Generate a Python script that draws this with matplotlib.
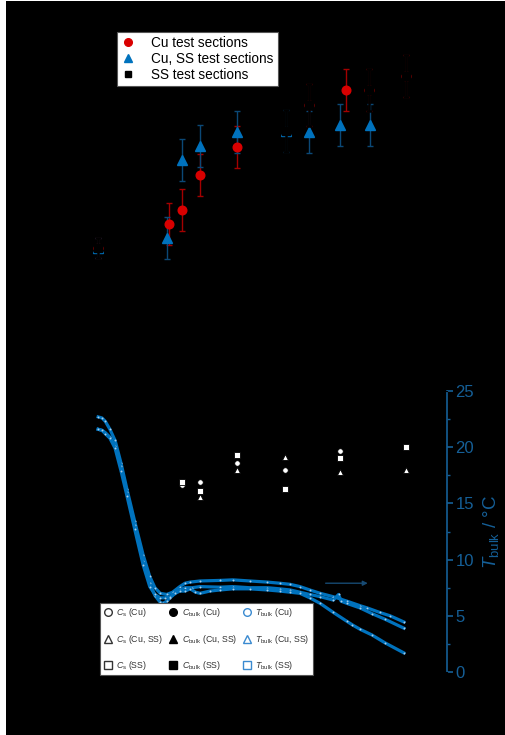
import matplotlib
matplotlib.use('Agg')
import matplotlib.pyplot as plt
from matplotlib.lines import Line2D
from matplotlib.patches import Rectangle

# time axis, min
t_cu = [6.6, 17.5, 19.4, 22.2, 27.9, 38.9, 44.6, 48.1, 53.8]
k_cu = [0.82, 1.06, 1.20, 1.55, 1.83, 2.25, 2.40, 2.40, 2.54]
k_cu_err = [0.10, 0.21, 0.21, 0.21, 0.21, 0.21, 0.21, 0.21, 0.21]

t_cuss = [6.6, 17.1, 19.4, 22.2, 27.9, 35.4, 38.9, 43.6, 48.2]
k_cuss = [0.82, 0.92, 1.70, 1.84, 1.98, 1.99, 1.98, 2.05, 2.05]
k_cuss_err = [0.10, 0.21, 0.21, 0.21, 0.21, 0.21, 0.21, 0.21, 0.21]

t_ss = [6.6, 35.4, 38.9, 48.1, 53.8]
k_ss = [0.82, 1.99, 2.25, 2.40, 2.54]
k_ss_err = [0.10, 0.21, 0.21, 0.21, 0.21]

# surface concentration C_s
ts_cu = [19.4, 22.2, 27.9, 35.2, 43.6]
cs_cu = [16.6, 16.9, 18.6, 18.0, 19.7]
ts_cuss = [22.2, 27.9, 35.2, 43.6, 53.8]
cs_cuss = [15.6, 18.0, 19.1, 17.8, 18.0]
ts_ss = [19.4, 22.2, 27.9, 35.2, 43.6, 53.8]
cs_ss = [16.9, 16.1, 19.3, 16.3, 19.0, 20.0]

# bulk temperature
tb_cu_t = [6.6, 7.2, 7.7, 8.4, 9.2, 10.1, 11.0, 12.2, 13.5, 14.5, 15.3, 16.1,
           17.1, 18.0, 19.1, 19.9, 20.7, 22.2, 25.3, 27.2, 29.8, 32.5, 34.4,
           36.0, 37.5, 39.0, 40.6, 42.6, 44.7, 46.7, 47.8, 49.7, 51.3, 53.4]
tb_cu = [22.7, 22.6, 22.3, 21.6, 20.6, 18.6, 16.3, 13.4, 10.4, 8.5, 7.5, 7.0,
         6.9, 7.1, 7.6, 7.9, 8.0, 8.1, 8.15, 8.2, 8.1, 8.0, 7.9,
         7.8, 7.6, 7.3, 7.0, 6.7, 6.3, 5.9, 5.7, 5.3, 5.0, 4.45]

tb_cuss_t = [6.6, 7.2, 7.7, 8.4, 9.2, 10.1, 11.0, 12.2, 13.5, 14.5, 15.3, 16.1,
             16.5, 17.1, 17.6, 18.4, 19.1, 19.9, 21.0, 22.2, 25.3, 27.2, 29.8,
             32.5, 34.4, 36.0, 37.5, 39.0, 40.6, 42.6, 43.4, 43.8, 44.7, 46.7,
             48.5, 50.5, 53.4]
tb_cuss = [21.6, 21.5, 21.3, 20.9, 20.1, 18.3, 16.0, 13.1, 9.9, 7.9, 6.8, 6.2,
           6.1, 6.3, 6.6, 7.0, 7.3, 7.5, 7.5, 7.6, 7.55, 7.6, 7.5,
           7.5, 7.4, 7.3, 7.1, 6.9, 6.7, 6.4, 6.9, 6.3, 6.1, 5.7,
           5.2, 4.7, 3.9]

tb_ss_t = [6.6, 7.2, 7.7, 8.4, 9.2, 10.1, 11.0, 12.2, 13.5, 14.5, 15.3, 16.1,
           16.8, 17.6, 18.4, 19.1, 19.9, 20.7, 21.5, 22.2, 23.7, 25.3, 27.2,
           29.8, 32.5, 34.4, 36.0, 37.5, 39.0, 40.6, 42.6, 44.7, 45.5, 46.7,
           48.5, 50.5, 53.4]
tb_ss = [21.6, 21.5, 21.2, 20.8, 19.9, 17.9, 15.7, 12.7, 9.5, 7.6, 6.9, 6.6,
         6.6, 6.7, 7.0, 7.2, 7.2, 7.4, 7.1, 7.0, 7.2, 7.3, 7.4,
         7.4, 7.3, 7.2, 7.1, 7.0, 6.6, 6.1, 5.3, 4.5, 4.2, 3.8,
         3.3, 2.6, 1.7]

red = '#d90000'
blue = '#0072bd'
axblue = '#155f97'

plt.rcParams['font.family'] = ['Liberation Sans', 'DejaVu Sans']
plt.rcParams['mathtext.fontset'] = 'custom'
plt.rcParams['mathtext.rm'] = 'Liberation Sans'
plt.rcParams['mathtext.it'] = 'Liberation Sans:italic'

if __name__ == '__main__':
    fig = plt.figure(figsize=(5.06, 7.35), dpi=100)
    fig.patch.set_facecolor('white')
    fig.add_artist(Rectangle((6 / 506, 0), 1, 1 - 1 / 735, transform=fig.transFigure,
                             facecolor='black', edgecolor='none', zorder=-10))

    # upper panel
    ax = fig.add_axes([55 / 506, 0.551, 392 / 506, 0.4218])
    ax.set_facecolor('black')
    ax.errorbar(t_cu, k_cu, yerr=k_cu_err, fmt='o', ms=6.2, color=red,
                ecolor='#a30000', elinewidth=1, capsize=2, zorder=3)
    ax.errorbar(t_cuss, k_cuss, yerr=k_cuss_err, fmt='^', ms=6.5, color=blue,
                ecolor='#0b4876', elinewidth=1, capsize=2, zorder=3)
    ax.errorbar(t_ss, k_ss, yerr=k_ss_err, fmt='s', ms=5.5, color='black',
                ecolor='black', elinewidth=1.8, capsize=2.3, capthick=1.8, zorder=4)
    ax.set_xlim(0, 60)
    ax.set_ylim(0, 3.1)
    for s in ax.spines.values():
        s.set_color('black')
    ax.tick_params(colors='black')
    h1 = [Line2D([], [], ls='', marker='o', color=red, ms=5.5),
          Line2D([], [], ls='', marker='^', color=blue, ms=6),
          Line2D([], [], ls='', marker='s', color='black', ms=5)]
    leg1 = ax.legend(h1, ['Cu test sections', 'Cu, SS test sections', 'SS test sections'],
                     loc='upper left', bbox_to_anchor=(0.158, 0.961), borderaxespad=0,
                     fontsize=9.8, fancybox=False, framealpha=1, edgecolor='#555555',
                     handlelength=1.0, handletextpad=1.25, labelspacing=0.15, borderpad=0.28)
    leg1.get_frame().set_linewidth(0.8)

    # lower panel
    axb = fig.add_axes([55 / 506, 0.0857, 392 / 506, 0.3823])
    axb.set_facecolor('black')
    axb.plot(ts_cu, cs_cu, 'o', ms=4, mfc='white', mec='black', mew=0.6, zorder=3)
    axb.plot(ts_cuss, cs_cuss, '^', ms=4, mfc='white', mec='black', mew=0.6, zorder=3)
    axb.plot(ts_ss, cs_ss, 's', ms=3.8, mfc='white', mec='black', mew=0.6, zorder=3)
    axb.set_xlim(0, 60)
    axb.set_ylim(0, 25)
    axb.set_xlabel('t / min', color='black')
    for s in axb.spines.values():
        s.set_color('black')
    axb.tick_params(colors='black')

    ax2 = axb.twinx()
    for tt, tb in [(tb_cu_t, tb_cu), (tb_cuss_t, tb_cuss), (tb_ss_t, tb_ss)]:
        ax2.plot(tt, tb, '-', color=blue, lw=2.3, marker='o', ms=1.4,
                 mfc='#a9cde9', mew=0, zorder=2, solid_joinstyle='round')
    ax2.set_ylim(0, 25)
    ax2.set_yticks([0, 5, 10, 15, 20, 25])
    ax2.set_yticks([2.5, 7.5, 12.5, 17.5, 22.5], minor=True)
    for name, s in ax2.spines.items():
        s.set_color('black')
    ax2.spines['right'].set_color(axblue)
    ax2.spines['right'].set_linewidth(1.2)
    ax2.tick_params(axis='y', which='major', colors=axblue, labelsize=12,
                    length=4, width=1.2, direction='out', pad=2)
    ax2.tick_params(axis='y', which='minor', colors=axblue, length=2.5, width=1.0)
    ax2.set_ylabel('$T_\\mathrm{bulk}$ / °C', color=axblue, fontsize=13.5, labelpad=5)
    ax2.annotate('', xy=(48.3, 7.9), xytext=(41.0, 7.9),
                 arrowprops=dict(arrowstyle='-|>', color='#174a73', lw=1,
                                 mutation_scale=7))

    cs_lab = ['$C_\\mathrm{s}$ (Cu)', '$C_\\mathrm{s}$ (Cu, SS)', '$C_\\mathrm{s}$ (SS)']
    cb_lab = ['$C_\\mathrm{bulk}$ (Cu)', '$C_\\mathrm{bulk}$ (Cu, SS)', '$C_\\mathrm{bulk}$ (SS)']
    tb_lab = ['$T_\\mathrm{bulk}$ (Cu)', '$T_\\mathrm{bulk}$ (Cu, SS)', '$T_\\mathrm{bulk}$ (SS)']
    mk = ['o', '^', 's']
    h2 = []
    for m in mk:
        h2.append(Line2D([], [], ls='', marker=m, ms=5.5, mfc='white', mec='#333333', mew=1))
    for m in mk:
        h2.append(Line2D([], [], ls='', marker=m, ms=5.5, mfc='black', mec='black'))
    for m in mk:
        h2.append(Line2D([], [], ls='', marker=m, ms=5.5, mfc='white', mec='#3a8ad0', mew=1))
    leg2 = ax2.legend(h2, cs_lab + cb_lab + tb_lab, ncol=3, loc='upper left',
                      bbox_to_anchor=(0.115, 0.2456), borderaxespad=0, fontsize=6.3,
                      fancybox=False, framealpha=1, edgecolor='#555555',
                      handlelength=1.0, handletextpad=0.5, labelspacing=1.55,
                      columnspacing=0.6, borderpad=0.35, labelcolor='#333333')
    leg2.get_frame().set_linewidth(0.8)
    leg2.set_zorder(10)

    fig.savefig('out.png', dpi=100, facecolor=fig.get_facecolor())
